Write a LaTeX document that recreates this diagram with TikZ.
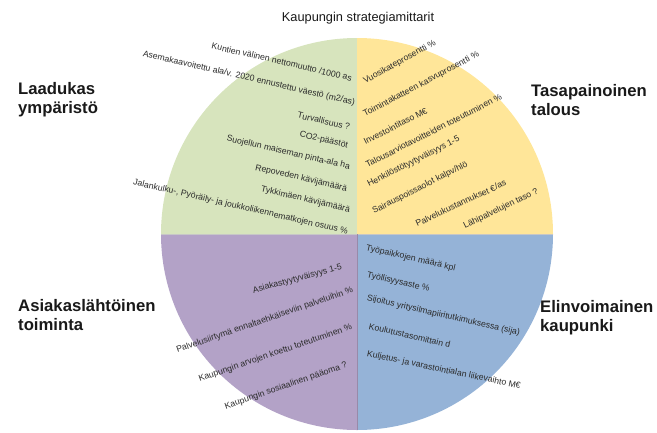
\documentclass[tikz,border=0pt]{standalone}
\usepackage{fontspec}
\setmainfont{Liberation Sans}
\definecolor{qgreen}{HTML}{D7E4BD}
\definecolor{qyellow}{HTML}{FFE699}
\definecolor{qpurple}{HTML}{B3A2C7}
\definecolor{qblue}{HTML}{95B3D7}
\definecolor{itemtxt}{HTML}{2B2B2B}
\begin{document}
\begin{tikzpicture}[x=1pt,y=-1pt,
  item/.style={inner sep=0pt,text=itemtxt,font=\fontsize{8.7}{10}\selectfont},
  gitem/.style={item,anchor=east,rotate=-13},
  yitem/.style={item,anchor=west,rotate=27},
  pitem/.style={item,anchor=east,rotate=19},
  bitem/.style={item,anchor=west,rotate=-13},
  region/.style={inner sep=0pt,anchor=north west,align=left,text=black!90,font=\fontsize{16.7}{19.5}\selectfont\bfseries},
  sep/.style={draw=black!22,line width=0.5pt}]
\useasboundingbox (0,0) rectangle (657,432);
\coordinate (c) at (357,234);
\fill[qgreen] (c) -- ++(90:196pt) arc[start angle=90,end angle=180,radius=196pt] -- cycle;
\fill[qyellow] (c) -- ++(0:196pt) arc[start angle=0,end angle=90,radius=196pt] -- cycle;
\fill[qpurple] (c) -- ++(180:196pt) arc[start angle=180,end angle=270,radius=196pt] -- cycle;
\fill[qblue] (c) -- ++(270:196pt) arc[start angle=270,end angle=360,radius=196pt] -- cycle;
\coordinate (cl) at (161,234);
\coordinate (cr) at (553,234);
\draw[sep] (cl) -- (cr);
\coordinate (cb) at (357,430);
\draw[draw=qpurple!85!black,line width=0.6pt] (c) -- (cb);

\node[inner sep=0pt,anchor=base,font=\fontsize{12.8}{14}\selectfont,text=black!90] (title) at (358,21) {Kaupungin strategiamittarit};

\node[region] (la) at (18,82) {Laadukas\\ympäristö};
\node[region] (ta) at (531,84) {Tasapainoinen\\talous};
\node[region] (as) at (18,299) {Asiakaslähtöinen\\toiminta};
\node[region] (el) at (540,300) {Elinvoimainen\\kaupunki};

\node[gitem] (g1) at (352,78) {Kuntien välinen nettomuutto /1000 as};
\node[gitem] (g2) at (355,103) {Asemakaavoitettu ala/v. 2020 ennustettu väestö (m2/as)};
\node[gitem] (g3) at (350,127) {Turvallisuus ?};
\node[gitem] (g4) at (348,146) {CO2-päästöt};
\node[gitem] (g5) at (350,167) {Suojellun maiseman pinta-ala ha};
\node[gitem] (g6) at (347,189) {Repoveden kävijämäärä};
\node[gitem] (g7) at (350,210) {Tykkimäen kävijämäärä};
\node[gitem] (g8) at (348,232) {Jalankulku-, Pyöräily- ja joukkoliikennematkojen osuus \%};

\node[yitem,rotate=2] (y1) at (364,82) {Vuosikateprosentti \%};
\node[yitem,rotate=1] (y2) at (364,115) {Toimintakatteen kasvuprosentti \%};
\node[yitem] (y3) at (364,142) {Investointitaso M€};
\node[yitem] (y4) at (366,165) {Talousarviotavoitteiden toteutuminen \%};
\node[yitem] (y5) at (368,185) {Henkilöstötyytyväisyys 1-5};
\node[yitem] (y6) at (373,212) {Sairauspoissaolot kalpv/hlö};
\node[yitem,rotate=-2] (y7) at (416,224) {Palvelukustannukset €/as};
\node[yitem,rotate=-1] (y8) at (464,227) {Lähipalvelujen taso ?};

\node[pitem,rotate=-4] (p1) at (342,267) {Asiakastyytyväisyys 1-5};
\node[pitem] (p2) at (353,290) {Palvelusiirtymä ennaltaehkäiseviin palveluihin \%};
\node[pitem] (p3) at (352,327) {Kaupungin arvojen koettu toteutuminen \%};
\node[pitem] (p4) at (347,365) {Kaupungin sosiaalinen pääoma ?};

\node[bitem] (b1) at (366,248) {Työpaikkojen määrä kpl};
\node[bitem] (b2) at (367,275) {Työllisyysaste \%};
\node[bitem] (b3) at (367,298) {Sijoitus yritysilmapiiritutkimuksessa (sija)};
\node[bitem] (b4) at (369,326) {Koulutustasomittain d};
\node[bitem,rotate=1] (b5) at (367,354) {Kuljetus- ja varastointialan liikevaihto M€};
\end{tikzpicture}
\end{document}
